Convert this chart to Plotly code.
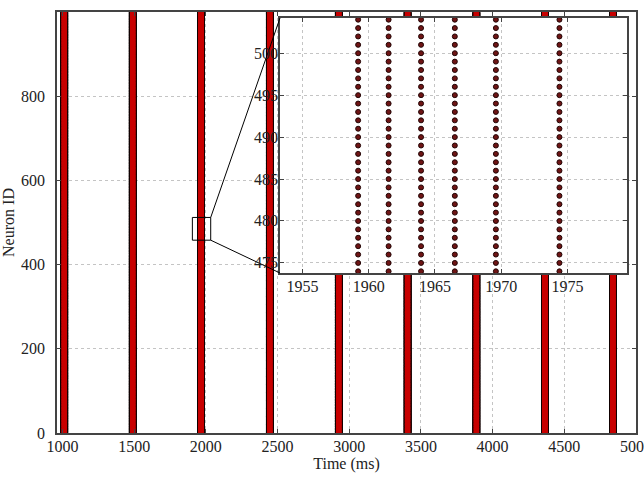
import numpy as np
import plotly.graph_objects as go

# ---- data ----
burst_onsets = [1005.4, 1482.4, 1959.2, 2438.4, 2919.4, 3399.4, 3879.4, 4357.4, 4831.4]  # ms, first spike of each burst
spike_offsets = [0.0, 2.3, 4.75, 7.3, 10.4, 15.2]  # ms, spikes within a burst (from inset)
neuron_ids = list(range(0, 1000))

x_ticks = [1000, 1500, 2000, 2500, 3000, 3500, 4000, 4500, 5000]
y_ticks = [0, 200, 400, 600, 800]
inset_x_ticks = [1955, 1960, 1965, 1970, 1975]
inset_y_ticks = [475, 480, 485, 490, 495, 500]

main_x_range = [962, 5000]
main_y_range = [0, 1000]
inset_x_range = [1953.3, 1979.5]
inset_y_range = [473.8, 504.2]
zoom_box_x = [1906, 2034]
zoom_box_y = [458, 512]

# ---- build spike raster ----
spike_times = [b + o for b in burst_onsets for o in spike_offsets]
xs = np.repeat(spike_times, len(neuron_ids))
ys = np.tile(neuron_ids, len(spike_times))

in_inset = (xs >= inset_x_range[0] - 1) & (xs <= inset_x_range[1] + 1) & \
           (ys >= inset_y_range[0] - 1) & (ys <= inset_y_range[1] + 1)

FONT = dict(family="Liberation Serif", size=16, color="#222222")

fig = go.Figure()
# dark rim of the markers
fig.add_trace(go.Scatter(
    x=xs, y=ys, mode="markers", xaxis="x", yaxis="y", showlegend=False,
    marker=dict(size=5.5, color="#150000", line=dict(width=0)),
    hoverinfo="skip"))
# red fill of the markers
fig.add_trace(go.Scatter(
    x=xs, y=ys, mode="markers", xaxis="x", yaxis="y", showlegend=False,
    marker=dict(size=3.2, color="#c80000", line=dict(width=0)),
    hoverinfo="skip"))
fig.add_trace(go.Scatter(
    x=xs[in_inset], y=ys[in_inset], mode="markers", xaxis="x2", yaxis="y2", showlegend=False,
    marker=dict(size=5, color="#6e1414", line=dict(color="#220505", width=1)),
    hoverinfo="skip"))

W, H = 644, 478
ml, mr, mt, mb = 57, 8, 12, 45
pw, ph = W - ml - mr, H - mt - mb
inset_px = dict(left=280, right=627, top=18, bottom=273)
ix0 = (inset_px["left"] - ml) / pw
ix1 = (inset_px["right"] - ml) / pw
iy0 = (H - mb - inset_px["bottom"]) / ph
iy1 = (H - mb - inset_px["top"]) / ph

grid = dict(showgrid=True, gridcolor="#c4c4c4", gridwidth=1, griddash="dot")
frame = dict(showline=True, linecolor="#444444", linewidth=1.5, mirror="ticks",
             ticks="inside", ticklen=4, tickcolor="#444444", zeroline=False,
             tickfont=FONT, automargin=False)

fig.update_layout(
    width=W, height=H, margin=dict(l=ml, r=mr, t=mt, b=mb, autoexpand=False),
    paper_bgcolor="white", plot_bgcolor="white", font=FONT,
    xaxis=dict(domain=[0, 1], range=main_x_range, tickvals=x_ticks,
               ticktext=[str(v) for v in x_ticks], anchor="y", ticklabelstandoff=-2,
               ticklabeloverflow="allow",
               title=dict(text="Time (ms)", font=FONT, standoff=4), **grid, **frame),
    yaxis=dict(domain=[0, 1], range=main_y_range, tickvals=y_ticks, anchor="x",
               ticklabelstandoff=7,
               title=dict(text="Neuron ID", font=FONT, standoff=3), **grid, **frame),
    xaxis2=dict(domain=[ix0, ix1], range=inset_x_range, tickvals=inset_x_ticks,
                anchor="y2", ticklabelstandoff=-2, **grid, **frame),
    yaxis2=dict(domain=[iy0, iy1], range=inset_y_range, tickvals=inset_y_ticks,
                anchor="x2", showticklabels=False, **grid, **frame),
)

# inset y tick labels drawn on top of the main raster (as in the reference)
for v in inset_y_ticks:
    fig.add_annotation(x=ix0, xref="paper", y=v, yref="y2", text=str(v),
                       showarrow=False, xanchor="right", yanchor="middle",
                       xshift=0, font=FONT)

# white backing for the inset (sits in the inset subplot's layer, above main traces)
fig.add_shape(type="rect", xref="x2", yref="y2",
              x0=inset_x_range[0], x1=inset_x_range[1], y0=inset_y_range[0], y1=inset_y_range[1],
              fillcolor="white", line=dict(width=0), layer="below")

# zoom box on the main plot
fig.add_shape(type="rect", xref="x", yref="y", x0=zoom_box_x[0], x1=zoom_box_x[1],
              y0=zoom_box_y[0], y1=zoom_box_y[1], line=dict(color="black", width=1),
              fillcolor="rgba(0,0,0,0)", layer="above")

def to_paper_x(v):
    return (v - main_x_range[0]) / (main_x_range[1] - main_x_range[0])

def to_paper_y(v):
    return (v - main_y_range[0]) / (main_y_range[1] - main_y_range[0])

bx = to_paper_x(zoom_box_x[1])
fig.add_shape(type="line", xref="paper", yref="paper", x0=bx, y0=to_paper_y(zoom_box_y[1]),
              x1=ix0, y1=iy1, line=dict(color="black", width=1), layer="above")
fig.add_shape(type="line", xref="paper", yref="paper", x0=bx, y0=to_paper_y(zoom_box_y[0]),
              x1=ix0, y1=iy0, line=dict(color="black", width=1), layer="above")

fig.write_html("out.html")
